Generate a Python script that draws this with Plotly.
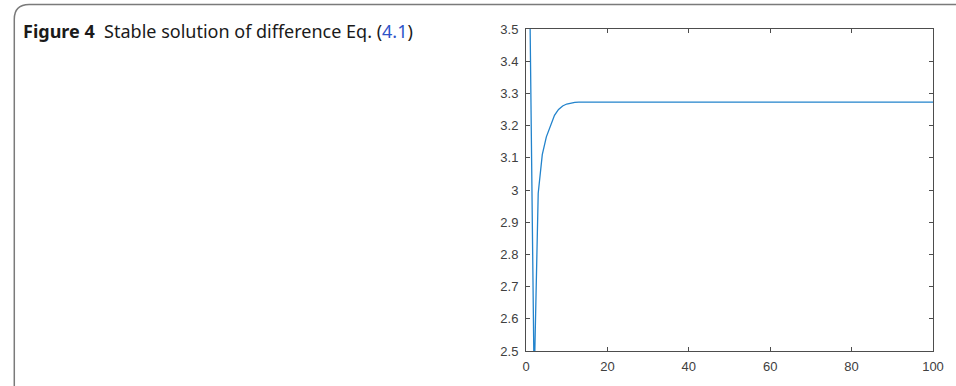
import plotly.graph_objects as go

# Data: iterate index n and solution value x(n)
n_vals = list(range(1, 101))
early_vals = [3.52, 2.40, 2.99, 3.11, 3.165, 3.20, 3.232, 3.25, 3.261, 3.267, 3.270, 3.272]
steady_val = 3.273
x_vals = early_vals + [steady_val] * (100 - len(early_vals))

y_ticks = [2.5, 2.6, 2.7, 2.8, 2.9, 3.0, 3.1, 3.2, 3.3, 3.4, 3.5]
y_tick_labels = ["2.5", "2.6", "2.7", "2.8", "2.9", "3", "3.1", "3.2", "3.3", "3.4", "3.5"]
x_ticks = [0, 20, 40, 60, 80, 100]
x_tick_labels = ["0", "20", "40", "60", "80", "100"]

W, H = 956, 386
L, R, T, B = 526, 938, 29, 356

fig = go.Figure()
fig.add_trace(go.Scatter(x=n_vals, y=x_vals, mode="lines",
                         line=dict(color="#2283cc", width=1.3),
                         hoverinfo="skip", showlegend=False))

axis_common = dict(showgrid=False, zeroline=False, showline=True, linecolor="#4d4d4d",
                   linewidth=1, mirror="ticks", ticks="inside", ticklen=4,
                   tickcolor="#4d4d4d", tickwidth=1,
                   tickfont=dict(family="Liberation Sans, Arial, sans-serif", size=13, color="#404040"))

fig.update_xaxes(range=[0, 100], tickvals=x_ticks, ticktext=x_tick_labels,
                 ticklabelstandoff=3, **axis_common)
fig.update_yaxes(range=[2.5, 3.5], tickvals=y_ticks, ticktext=y_tick_labels,
                 ticklabelstandoff=4, **axis_common)

def px(xp):
    return (xp - L) / (R - L)

def py(yp):
    return (B - yp) / (B - T)

frame_path = (f"M {px(8)} {py(392)} L {px(8)} {py(19)} "
              f"Q {px(8)} {py(4)} {px(23)} {py(4)} L {px(962)} {py(4)}")
fig.add_shape(type="path", path=frame_path, xref="paper", yref="paper",
              line=dict(color="#7a7a7a", width=1.5))

fig.add_annotation(
    x=px(15), y=py(31), xref="paper", yref="paper", xanchor="left", yanchor="middle",
    showarrow=False,
    text=("<b>Figure 4</b>\u00a0\u00a0Stable solution of difference Eq. "
          "(<span style='color:#2f54c9'>4.1</span>)"),
    font=dict(family="Noto Sans, Open Sans, sans-serif", size=18, color="#1a1a1a"),
)

fig.update_layout(width=W, height=H, margin=dict(l=L, r=W - R, t=T, b=H - B),
                  paper_bgcolor="white", plot_bgcolor="white")

fig.write_html("out.html", config={"displayModeBar": False},
               post_script="document.body.style.margin='0';document.body.style.overflow='hidden';")
